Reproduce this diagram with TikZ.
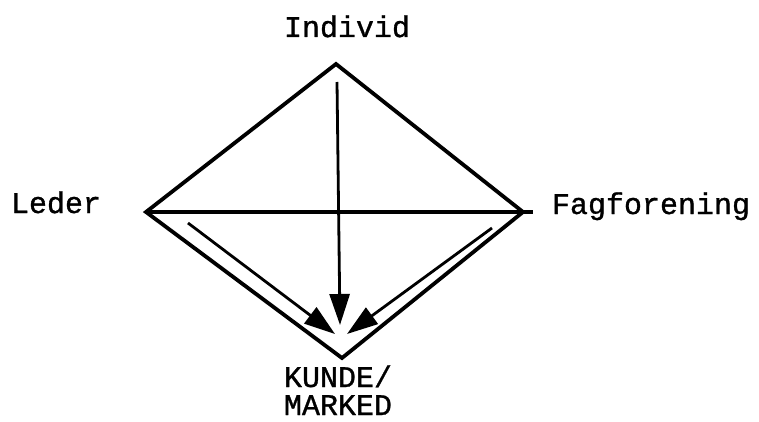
\documentclass[tikz,border=0pt]{standalone}
\usepackage{fontspec}
\newfontfamily\labelfont[FakeBold=1]{Liberation Mono}
\usetikzlibrary{arrows.meta}

\begin{document}
\begin{tikzpicture}[
        x=1pt, y=-1pt,
        label/.style={font=\fontsize{30}{28}\selectfont\labelfont, inner sep=0pt, anchor=base, align=center},
        edge/.style={line width=3.8pt, line join=miter},
        arrow/.style={line width=2.8pt, -{Triangle[length=31pt, width=20pt]}}
    ]
    \useasboundingbox (0,0) rectangle (759,422);
    \coordinate (top) at (336,64);
    \coordinate (left) at (146,212);
    \coordinate (right) at (523,212);
    \coordinate (bottom) at (342,358);
    \coordinate (vstart) at (337,82);
    \coordinate (vtip) at (340,325);
    \coordinate (lstart) at (188,223);
    \coordinate (ltip) at (335,334);
    \coordinate (rstart) at (492,228);
    \coordinate (rtip) at (347,334);

    \node[label] (individ) at (347,37) {Individ};
    \node[label] (leder) at (56,213) {Leder};
    \node[label] (fag) at (651,214) {Fagforening};
    \node[label] (kunde) at (338,415) {KUNDE/\\MARKED};

    \draw[edge] (top) -- (right) -- (bottom) -- (left) -- cycle;
    \draw[edge, shorten >=-10pt] (left) -- (right);
    \draw[arrow] (vstart) -- (vtip);
    \draw[arrow] (lstart) -- (ltip);
    \draw[arrow] (rstart) -- (rtip);
\end{tikzpicture}
\end{document}
